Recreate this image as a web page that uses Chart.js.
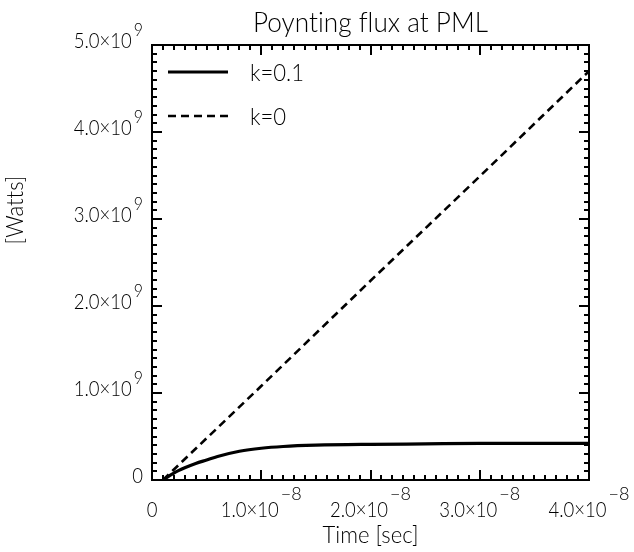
<!DOCTYPE html>
<html>
<head>
<meta charset="utf-8">
<script src="https://cdn.jsdelivr.net/npm/chart.js@4.4.1/dist/chart.umd.min.js"></script>
<style>
  html, body { margin: 0; padding: 0; background: #ffffff; }
  #wrap { width: 634px; height: 552px; }
</style>
</head>
<body>
<div id="wrap"><canvas id="c" width="634" height="552"></canvas></div>
<script>
// ---- data ----
const titleText = 'Poynting flux at PML';
const xTitle = 'Time [sec]';
const yTitle = '[Watts]';
const seriesLabels = ['k=0.1', 'k=0'];

// k = 0.1 (solid)
const k01Time = [0.1e-8, 0.2e-8, 0.3e-8, 0.4e-8, 0.5e-8, 0.6e-8, 0.8e-8, 1.0e-8, 1.2e-8, 1.5e-8, 2.0e-8, 2.5e-8, 3.0e-8, 3.5e-8, 4.0e-8];
const k01Flux = [0, 0.08e9, 0.14e9, 0.19e9, 0.23e9, 0.27e9, 0.33e9, 0.365e9, 0.385e9, 0.40e9, 0.41e9, 0.415e9, 0.42e9, 0.42e9, 0.42e9];

// k = 0 (dashed)
const k0Time = [0.1e-8, 1.0e-8, 2.0e-8, 3.0e-8, 4.0e-8];
const k0Flux = [0, 1.08e9, 2.29e9, 3.49e9, 4.7e9];

// tick labels
const xTickValues = [0, 1e-8, 2e-8, 3e-8, 4e-8];
const xTickBase = ['0', '1.0\u00d710', '2.0\u00d710', '3.0\u00d710', '4.0\u00d710'];
const xTickExp = ['', '\u22128', '\u22128', '\u22128', '\u22128'];
const yTickValues = [0, 1e9, 2e9, 3e9, 4e9, 5e9];
const yTickBase = ['0', '1.0\u00d710', '2.0\u00d710', '3.0\u00d710', '4.0\u00d710', '5.0\u00d710'];
const yTickExp = ['', '9', '9', '9', '9', '9'];

// ---- drawing ----
const FONT = 'Lato,"Liberation Sans Narrow","DejaVu Sans Condensed",sans-serif';
const WEIGHT = '300';
const xMin = 0, xMax = 4e-8, xMinorCount = 40;
const yMin = 0, yMax = 5e9, yMinorCount = 50;

function pairs(xs, ys) { return xs.map((x, i) => ({ x: x, y: ys[i] })); }

function setFont(ctx, size) {
  ctx.font = WEIGHT + ' ' + size + 'px ' + FONT;
  if ('letterSpacing' in ctx) ctx.letterSpacing = '0.01px'; // avoids "ti" ligature
}
function tw(ctx, text, size, sx) { setFont(ctx, size); return ctx.measureText(text).width * sx; }
// horizontal squeeze that makes `sample` as wide as `target` px at `size`
function fitSX(ctx, sample, size, target) { return target / tw(ctx, sample, size, 1); }
function dt(ctx, text, x, y, size, sx) {
  ctx.save();
  setFont(ctx, size);
  ctx.textAlign = 'left';
  ctx.textBaseline = 'alphabetic';
  ctx.translate(x, y);
  ctx.scale(sx, 1);
  ctx.fillText(text, 0, 0);
  ctx.restore();
}

const idlPlugin = {
  id: 'idlFrame',
  afterDatasetsDraw(chart) {
    const ctx = chart.ctx;
    const a = chart.chartArea;
    const xs = chart.scales.x, ys = chart.scales.y;
    ctx.save();
    ctx.strokeStyle = '#000';
    ctx.fillStyle = '#000';
    ctx.lineWidth = 2;
    ctx.strokeRect(a.left, a.top, a.right - a.left, a.bottom - a.top);

    // ticks (inward, all four sides)
    ctx.beginPath();
    for (let i = 0; i <= xMinorCount; i++) {
      const v = xMin + (xMax - xMin) * i / xMinorCount;
      const px = Math.round(xs.getPixelForValue(v));
      const len = (i % 10 === 0) ? 10 : 5;
      ctx.moveTo(px, a.bottom); ctx.lineTo(px, a.bottom - len);
      ctx.moveTo(px, a.top); ctx.lineTo(px, a.top + len);
    }
    for (let i = 0; i <= yMinorCount; i++) {
      const v = yMin + (yMax - yMin) * i / yMinorCount;
      const py = Math.round(ys.getPixelForValue(v));
      const len = (i % 10 === 0) ? 10 : 5;
      ctx.moveTo(a.left, py); ctx.lineTo(a.left + len, py);
      ctx.moveTo(a.right, py); ctx.lineTo(a.right - len, py);
    }
    ctx.stroke();

    // tick labels
    const MS = 21, ES = 18, GAP = 2;
    const SX = fitSX(ctx, '2.0\u00d710', MS, 58);
    xTickValues.forEach((v, i) => {
      const px = xs.getPixelForValue(v);
      const wb = tw(ctx, xTickBase[i], MS, SX);
      const we = xTickExp[i] ? tw(ctx, xTickExp[i], ES, 1) + GAP : 0;
      const left = px - (wb + we) / 2;
      dt(ctx, xTickBase[i], left, 517, MS, SX);
      if (xTickExp[i]) dt(ctx, xTickExp[i], left + wb + GAP, 500, ES, 1);
    });
    yTickValues.forEach((v, i) => {
      const py = ys.getPixelForValue(v);
      const we = yTickExp[i] ? tw(ctx, yTickExp[i], ES, SX) + GAP : 0;
      const wb = tw(ctx, yTickBase[i], MS, SX);
      const right = 143;
      const left = right - we - wb;
      dt(ctx, yTickBase[i], left, py + 3, MS, SX);
      if (yTickExp[i]) dt(ctx, yTickExp[i], left + wb + GAP, py - 9, ES, SX);
    });

    // title and axis titles
    const TS = 23;
    const TSX = fitSX(ctx, xTitle, TS, 96);
    const HS = 27;
    const HSX = fitSX(ctx, titleText, HS, 235);
    const wh = tw(ctx, titleText, HS, HSX);
    dt(ctx, titleText, (a.left + a.right) / 2 - wh / 2, 32, HS, HSX);
    const wx = tw(ctx, xTitle, TS, TSX);
    dt(ctx, xTitle, (a.left + a.right) / 2 - wx / 2, 543, TS, TSX);
    ctx.save();
    ctx.translate(23, 210);
    ctx.rotate(-Math.PI / 2);
    const wy = tw(ctx, yTitle, TS, TSX);
    dt(ctx, yTitle, -wy / 2, 0, TS, TSX);
    ctx.restore();

    // legend inside plot
    const rowsY = [72, 116];
    chart.data.datasets.forEach((ds, i) => {
      const y = rowsY[i];
      ctx.save();
      ctx.lineWidth = ds.borderWidth;
      ctx.setLineDash(ds.borderDash || []);
      ctx.beginPath();
      ctx.moveTo(168, y); ctx.lineTo(228, y);
      ctx.stroke();
      ctx.restore();
      dt(ctx, ds.label, 250, y + 9, TS, TSX);
    });
    ctx.restore();
  }
};

new Chart(document.getElementById('c'), {
  type: 'line',
  data: {
    datasets: [
      { label: seriesLabels[0], data: pairs(k01Time, k01Flux), borderColor: '#000', borderWidth: 3.2, pointRadius: 0, cubicInterpolationMode: 'monotone', fill: false },
      { label: seriesLabels[1], data: pairs(k0Time, k0Flux), borderColor: '#000', borderWidth: 2.6, borderDash: [8, 5], pointRadius: 0, tension: 0, fill: false }
    ]
  },
  options: {
    responsive: false,
    animation: false,
    events: [],
    layout: { padding: { top: 45, right: 45, bottom: 0, left: 0 } },
    plugins: {
      legend: { display: false },
      tooltip: { enabled: false },
      title: { display: false, text: titleText }
    },
    scales: {
      x: {
        type: 'linear', min: xMin, max: xMax,
        ticks: { display: false },
        grid: { display: false },
        border: { display: false },
        afterFit(scale) { scale.height = 72; }
      },
      y: {
        type: 'linear', min: yMin, max: yMax,
        ticks: { display: false },
        grid: { display: false },
        border: { display: false },
        afterFit(scale) { scale.width = 152; }
      }
    }
  },
  plugins: [idlPlugin]
});
</script>
</body>
</html>
